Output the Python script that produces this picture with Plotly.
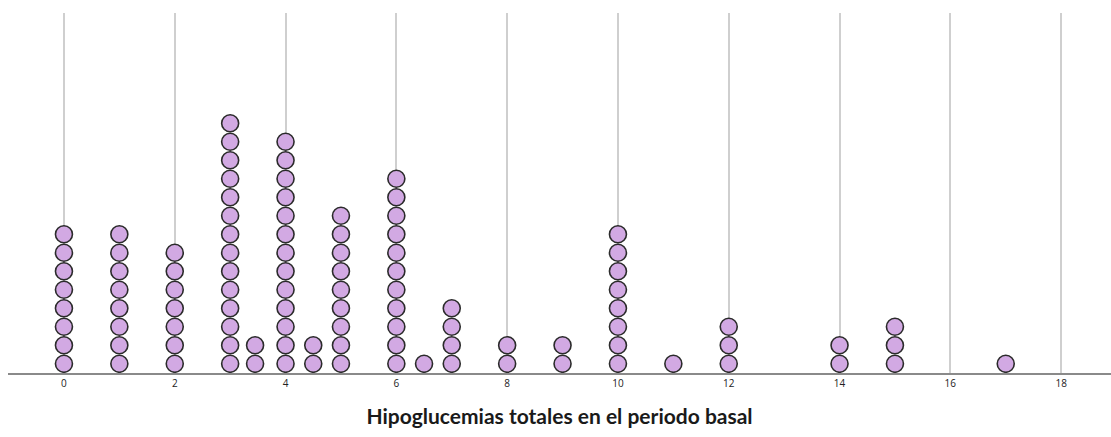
import plotly.graph_objects as go

# Hypoglycaemia totals in the baseline period: bin position and number of cases
bin_values = [0, 1, 2, 3, 3.45, 4, 4.5, 5, 6, 6.5, 7, 8, 9, 10, 11, 12, 14, 15, 17]
bin_counts = [8, 8, 7, 14, 2, 13, 2, 9, 11, 1, 4, 2, 2, 8, 1, 3, 2, 3, 1]
tick_values = [0, 2, 4, 6, 8, 10, 12, 14, 16, 18]
axis_title = "Hipoglucemias totales en el periodo basal"

# stack one dot per case above each bin
dot_x, dot_y = [], []
for v, n in zip(bin_values, bin_counts):
    for k in range(1, n + 1):
        dot_x.append(v)
        dot_y.append(k)

fig = go.Figure(
    go.Scatter(
        x=dot_x,
        y=dot_y,
        mode="markers",
        marker=dict(
            size=17,
            color="#D2A9E3",
            line=dict(color="#2b2b2b", width=1.6),
        ),
        hoverinfo="x",
    )
)

fig.update_layout(
    width=1111,
    height=437,
    margin=dict(l=8, r=0, t=13, b=64),
    paper_bgcolor="white",
    plot_bgcolor="white",
    showlegend=False,
    xaxis=dict(
        range=[-1.01, 18.9],
        tickvals=tick_values,
        ticktext=[str(t) for t in tick_values],
        showgrid=True,
        gridcolor="#cfcfcf",
        gridwidth=1.5,
        zeroline=False,
        showline=True,
        linecolor="#8a8a8a",
        linewidth=1.5,
        ticks="",
        tickfont=dict(family="Open Sans", size=10, color="#222222"),
        title=dict(
            text=f"<b>{axis_title}</b>",
            font=dict(family="Lato", size=21, color="#1a1a1a"),
            standoff=21,
        ),
    ),
    yaxis=dict(
        range=[0.5, 19.96],
        showgrid=False,
        zeroline=False,
        showticklabels=False,
        showline=False,
        ticks="",
    ),
)

fig.write_html("out.html")
